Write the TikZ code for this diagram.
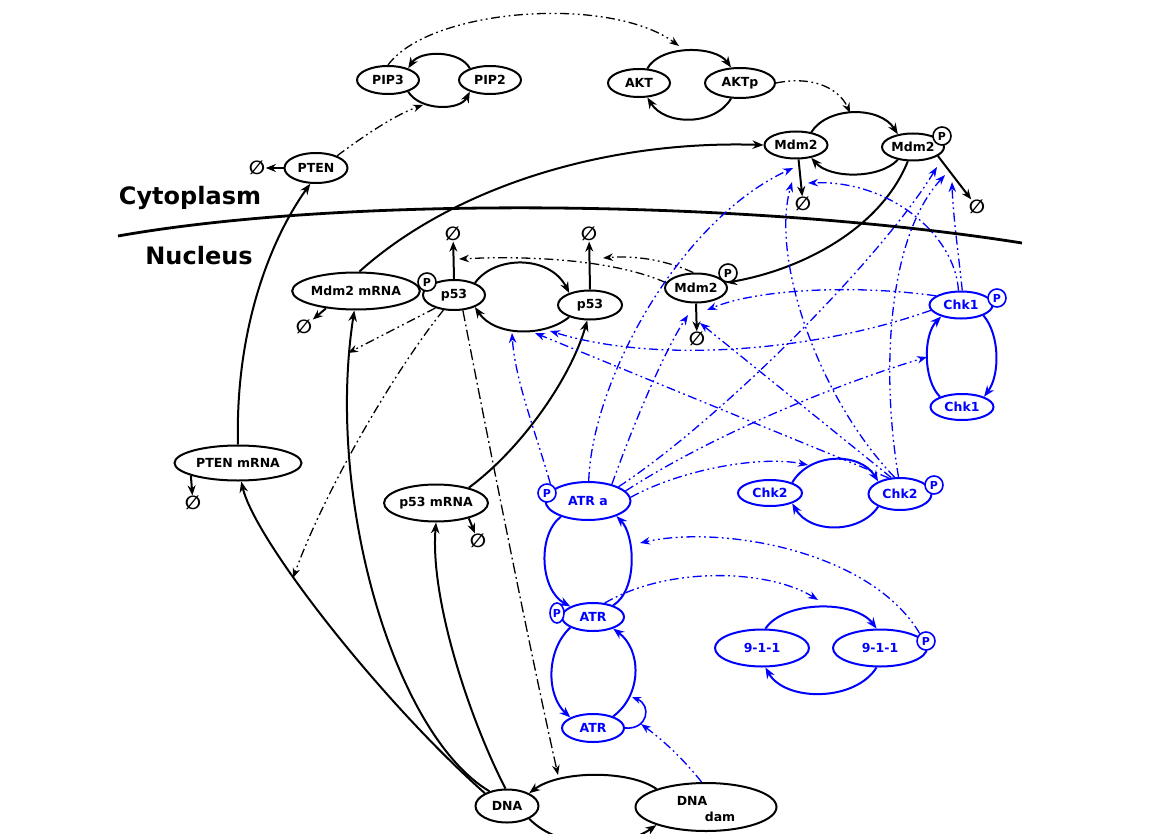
\documentclass[tikz,border=0pt]{standalone}
\usepackage{fontspec}
\setmainfont{DejaVu Sans}
\usetikzlibrary{arrows.meta,shapes.geometric}
\begin{document}
\begin{tikzpicture}[x=1pt,y=-1pt,
  every node/.style={font=\bfseries\fontsize{12.5}{14}\selectfont},
  sz/.style 2 args={minimum width=#1pt, minimum height=#2pt},
  n/.style={ellipse, draw, line width=2pt, inner sep=0pt},
  bn/.style={n, draw=blue, text=blue},
  pc/.style={circle, draw, line width=1.6pt, fill=white, inner sep=0pt, minimum size=18pt, font=\bfseries\fontsize{11}{12}\selectfont},
  bpc/.style={pc, draw=blue, text=blue},
  em/.style={inner sep=0.5pt, font=\bfseries\fontsize{19}{19}\selectfont},
  big/.style={font=\bfseries\fontsize{24}{26}\selectfont},
  rx/.style={line width=2pt, -{Stealth[length=11pt,width=8.5pt]}},
  brx/.style={rx, draw=blue},
  deg/.style={line width=2pt, -{Stealth[length=10pt,width=8pt]}},
  ddd/.style={line width=1.3pt, dash pattern=on 9pt off 3.5pt on 1.8pt off 3.5pt on 1.8pt off 3.5pt, -{Stealth[length=10pt,width=7.5pt]}},
  bddd/.style={ddd, draw=blue},
  dd/.style={line width=1.3pt, dash pattern=on 11pt off 3.5pt on 1.8pt off 3.5pt, -{Stealth[length=10pt,width=7.5pt]}}
]
\useasboundingbox (0,0) rectangle (1166,834);

% membrane
\coordinate (m1) at (118,236);
\coordinate (m2) at (1022,243);
\draw[line width=2.8pt] (m1) .. controls (350,195) and (750,200) .. (m2);
\node[big] (cyto) at (190,198) {Cytoplasm};
\node[big] (nuc) at (199,256) {Nucleus};

% black nodes
\node[n, sz={62}{28}] (PIP3) at (388,80) {PIP3};
\node[n, sz={62}{28}] (PIP2) at (490,80) {PIP2};
\node[n, sz={62}{28}] (AKT) at (639,83) {AKT};
\node[n, sz={70}{30}] (AKTp) at (740,83) {AKTp};
\node[n, sz={63}{30}] (PTEN) at (316,168) {PTEN};
\node[n, sz={63}{27}] (Mdm2c) at (796,145) {Mdm2};
\node[n, sz={62}{27}] (Mdm2pc) at (913,147) {Mdm2};
\node[n, sz={93}{37}] (Mdm2mRNA) at (356,291) {Mdm2 mRNA};
\node[n, sz={62}{30}] (p53p) at (454,295) {p53};
\node[n, sz={64}{29}] (p53) at (590,305) {p53};
\node[n, sz={62}{29}] (Mdm2n) at (696,288) {Mdm2};
\node[n, sz={93}{37}] (p53mRNA) at (436,503) {p53 mRNA};
\node[n, sz={127}{35}] (PTENmRNA) at (238,463) {PTEN mRNA};
\node[n, sz={63}{33}] (DNA) at (507,806) {DNA};
\node[n, sz={141}{48}] (DNAdam) at (706,807) {};
\node (DNAdamA) at (692,801) {DNA};
\node (DNAdamB) at (720,817) {dam};

% blue nodes
\node[bn, sz={63}{27}] (Chk1p) at (961,305) {Chk1};
\node[bn, sz={63}{26}] (Chk1) at (962,407) {Chk1};
\node[bn, sz={85}{38}] (ATRa) at (588,501) {ATR a};
\node[bn, sz={64}{26}] (Chk2) at (770,493) {Chk2};
\node[bn, sz={63}{32}] (Chk2p) at (900,494) {Chk2};
\node[bn, sz={62}{28}] (ATRp) at (593,617) {ATR};
\node[bn, sz={62}{28}] (ATR) at (593,728) {ATR};
\node[bn, sz={94}{37}] (n911) at (762,648) {9-1-1};
\node[bn, sz={94}{37}] (n911p) at (880,648) {9-1-1};

% empty sets
\node[em] (ePTEN) at (257,168) {∅};
\node[em] (eM2c) at (803,204) {∅};
\node[em] (eM2pc) at (977,207) {∅};
\node[em] (eMm) at (304,327) {∅};
\node[em] (eP53p) at (453,234) {∅};
\node[em] (eP53) at (589,234) {∅};
\node[em] (eM2n) at (697,339) {∅};
\node[em] (ePTENm) at (193,503) {∅};
\node[em] (ep53m) at (478,541) {∅};

% target coordinates
\coordinate (tPIP) at (423,105);
\coordinate (tAKT) at (679,46);
\coordinate (tMDM) at (850,113);
\coordinate (tP53d2) at (603,258);
\coordinate (tP53d1) at (459,259);
\coordinate (tMRNA) at (348,353);
\coordinate (tPTENm) at (293,578);
\coordinate (tDNA) at (558,775);
\coordinate (tp53a) at (512,333);
\coordinate (tp53b) at (535,333);
\coordinate (tp53c) at (550,331);
\coordinate (tM2ca) at (793,168);
\coordinate (tM2ch) at (792,182);
\coordinate (tM2ci) at (808,183);
\coordinate (tM2pa) at (937,167);
\coordinate (tM2pb) at (945,175);
\coordinate (tM2pc) at (952,182);
\coordinate (tM2na) at (688,315);
\coordinate (tM2nd) at (707,310);
\coordinate (tM2ne) at (700,323);
\coordinate (tChk1) at (927,357);
\coordinate (tChk2) at (808,465);
\coordinate (tATR) at (640,543);
\coordinate (t911) at (818,600);
\coordinate (catT) at (632,697);
\coordinate (catM) at (641,724);

% black reaction cycles
\draw[rx] (PIP2.150) .. controls (460,50) and (420,50) .. (PIP3.30);
\draw[rx] (PIP3.-30) .. controls (420,111) and (460,111) .. (PIP2.210);
\draw[rx] (AKT.60) .. controls (660,45) and (715,45) .. (AKTp.120);
\draw[rx] (AKTp.240) .. controls (715,126) and (665,126) .. (AKT.300);
\draw[rx] (Mdm2c.40) .. controls (828,106) and (880,106) .. (Mdm2pc.140);
\draw[rx] (Mdm2pc.220) .. controls (880,179) and (830,179) .. (Mdm2c.320);
\draw[rx] (p53p.30) .. controls (495,255) and (550,255) .. (p53.150);
\draw[rx] (p53.210) .. controls (545,337) and (495,337) .. (p53p.-30);
\draw[rx] (DNAdam.160) .. controls (630,770) and (560,770) .. (DNA.30);
\draw[rx] (DNA.-30) .. controls (560,850) and (620,850) .. (DNAdam.200);

% black production / transport
\draw[rx] (PTENmRNA.north) .. controls (235,330) and (270,240) .. (PTEN.250);
\draw[rx] (Mdm2mRNA.80) .. controls (450,190) and (600,140) .. (Mdm2c.west);
\draw[rx] (Mdm2pc.250) .. controls (880,230) and (800,270) .. (Mdm2n.10);
\draw[rx] (DNA.140) .. controls (395,735) and (325,500) .. (Mdm2mRNA.265);
\draw[rx] (DNA.150) .. controls (380,700) and (255,540) .. (PTENmRNA.-80);
\draw[rx] (DNA.95) .. controls (470,720) and (430,600) .. (p53mRNA.south);
\draw[rx] (p53mRNA.25) .. controls (520,450) and (570,380) .. (p53.260);

% degradation
\draw[deg] (PTEN.west) -- (ePTEN);
\draw[deg] (Mdm2c.-80) -- (eM2c);
\draw[deg] (Mdm2pc.340) -- (eM2pc);
\draw[deg] (Mdm2mRNA.210) -- (eMm);
\draw[deg] (p53p.north) -- (eP53p);
\draw[deg] (p53.north) -- (eP53);
\draw[deg] (Mdm2n.south) -- (eM2n);
\draw[deg] (PTENmRNA.195) -- (ePTENm);
\draw[deg] (p53mRNA.335) -- (ep53m);

% black regulation
\draw[ddd] (PTEN.30) .. controls (365,135) and (395,115) .. (tPIP);
\draw[ddd] (PIP3.90) .. controls (430,8) and (610,-5) .. (tAKT);
\draw[ddd] (AKTp.east) .. controls (815,75) and (840,90) .. (tMDM);
\draw[ddd] (Mdm2n.100) .. controls (670,262) and (640,255) .. (tP53d2);
\draw[ddd] (Mdm2n.170) .. controls (620,262) and (540,255) .. (tP53d1);
\draw[ddd] (p53p.215) -- (tMRNA);
\draw[ddd] (p53p.235) .. controls (395,370) and (325,490) .. (tPTENm);
\draw[dd] (p53p.300) .. controls (490,450) and (530,650) .. (tDNA);

% blue reaction cycles
\draw[brx] (Chk1p.-25) .. controls (1000,335) and (1000,375) .. (Chk1.25);
\draw[brx] (Chk1.155) .. controls (923,380) and (923,335) .. (Chk1p.210);
\draw[brx] (Chk2.25) .. controls (810,452) and (860,452) .. (Chk2p.150);
\draw[brx] (Chk2p.210) .. controls (860,534) and (810,534) .. (Chk2.-25);
\draw[brx] (ATRa.210) .. controls (537,535) and (540,590) .. (ATRp.155);
\draw[brx] (ATRp.30) .. controls (638,590) and (635,535) .. (ATRa.-28);
\draw[brx] (ATRp.205) .. controls (546,650) and (546,695) .. (ATR.155);
\draw[brx] (ATR.30) .. controls (642,695) and (642,650) .. (ATRp.-30);
\draw[brx] (n911.80) .. controls (785,600) and (855,600) .. (n911p.100);
\draw[brx] (n911p.-100) .. controls (855,702) and (785,702) .. (n911.-80);
\draw[blue, line width=1.6pt, -{Stealth[length=9pt,width=7pt]}] (ATR.east) .. controls (648,730) and (652,705) .. (catT);

% P markers
\node[pc] (Mdm2pcP) at (942,136) {P};
\node[pc] (Mdm2nP) at (728,273) {P};
\node[pc] (p53pP) at (427,282) {P};
\node[bpc] (Chk1pP) at (997,298) {P};
\node[bpc] (Chk2pP) at (934,485) {P};
\node[bpc] (ATRaP) at (547,493) {P};
\node[bpc, ellipse, minimum size=14pt, minimum height=20pt] (ATRpP) at (557,613) {P};
\node[bpc] (n911pP) at (926,641) {P};

% blue regulation
\draw[bddd] (ATRaP.70) .. controls (535,430) and (515,380) .. (tp53a);
\draw[bddd] (ATRa.88) .. controls (592,380) and (680,220) .. (tM2ca);
\draw[bddd] (ATRa.35) .. controls (635,420) and (665,350) .. (tM2na);
\draw[bddd] (ATRa.25) .. controls (720,420) and (880,260) .. (tM2pa);
\draw[bddd] (ATRa.15) .. controls (720,430) and (850,380) .. (tChk1);
\draw[bddd] (ATRa.5) .. controls (680,470) and (760,455) .. (tChk2);
\draw[bddd] (Chk2p.125) -- (tp53b);
\draw[bddd] (Chk2p.118) -- (tM2ne);
\draw[bddd] (Chk2p.108) .. controls (820,400) and (770,260) .. (tM2ch);
\draw[bddd] (Chk2p.95) .. controls (882,380) and (885,240) .. (tM2pb);
\draw[bddd] (Chk1p.190) .. controls (820,350) and (660,365) .. (tp53c);
\draw[bddd] (Chk1p.160) .. controls (860,285) and (760,288) .. (tM2nd);
\draw[bddd] (Chk1p.100) .. controls (955,235) and (890,180) .. (tM2ci);
\draw[bddd] (Chk1p.85) .. controls (958,250) and (953,215) .. (tM2pc);
\draw[bddd] (n911pP.130) .. controls (870,550) and (720,525) .. (tATR);
\draw[bddd] (ATRp.50) .. controls (670,565) and (770,570) .. (t911);
\draw[bddd] (DNAdam.100) .. controls (680,755) and (660,738) .. (catM);
\end{tikzpicture}
\end{document}
